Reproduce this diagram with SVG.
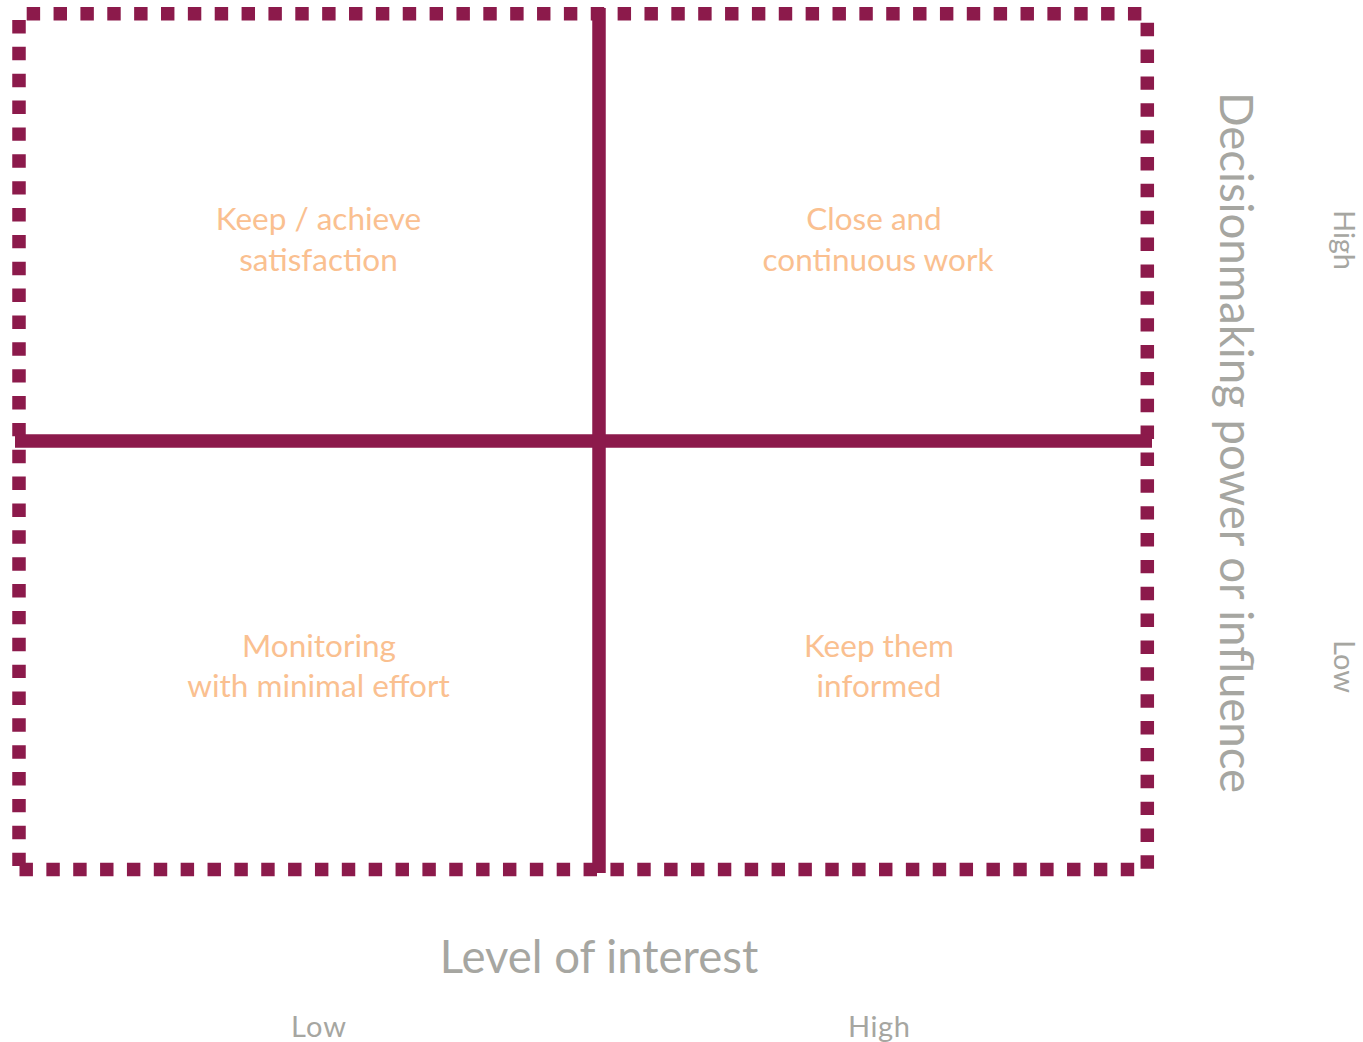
<svg xmlns="http://www.w3.org/2000/svg" width="1363" height="1042" viewBox="0 0 1363 1042">
<style>
.dot{stroke:#8C1A4B;stroke-width:13.5;stroke-dasharray:13.43 13.43;fill:none}
.axis{stroke:#8C1A4B;stroke-width:13.5;fill:none}
.q{font-family:Lato,"Open Sans",sans-serif;font-size:31.5px;fill:#FAC090;text-anchor:middle}
.ax{font-family:Lato,"Open Sans",sans-serif;fill:#A6A6A1;text-anchor:middle}
</style>
<rect width="1363" height="1042" fill="#FFFFFF"/>
<g id="frame">
<line class="dot" x1="26.7" y1="13.7" x2="1142" y2="13.7"/>
<line class="dot" x1="19" y1="20" x2="19" y2="866"/>
<line class="dot" x1="1147.3" y1="22.7" x2="1147.3" y2="869"/>
<line class="dot" x1="19.5" y1="869.5" x2="1134.5" y2="869.5"/>
</g>
<g id="connectors">
<line class="axis" x1="15" y1="441" x2="1152" y2="441"/>
<line class="axis" x1="599" y1="8" x2="599" y2="873"/>
</g>
<g id="q-keep-satisfied">
<text class="q" x="318.5" y="230">Keep / achieve</text>
<text class="q" x="318.5" y="271">satisfaction</text>
</g>
<g id="q-close-work">
<text class="q" x="874" y="230">Close and</text>
<text class="q" x="878" y="271">continuous work</text>
</g>
<g id="q-monitoring">
<text class="q" x="319" y="657">Monitoring</text>
<text class="q" x="318.5" y="697">with minimal effort</text>
</g>
<g id="q-keep-informed">
<text class="q" x="879" y="657">Keep them</text>
<text class="q" x="879" y="697">informed</text>
</g>
<g id="x-axis">
<text class="ax" x="599" y="973" font-size="45.5">Level of interest</text>
<text class="ax" x="318.5" y="1037" font-size="29" textLength="55">Low</text>
<text class="ax" x="879" y="1037" font-size="29" textLength="62">High</text>
</g>
<g id="y-axis">
<text class="ax" font-size="45.5" transform="translate(1220,442.5) rotate(90)">Decisionmaking power or influence</text>
<text class="ax" font-size="29" textLength="60" transform="translate(1334,240) rotate(90)">High</text>
<text class="ax" font-size="29" textLength="53" transform="translate(1334,666.5) rotate(90)">Low</text>
</g>
</svg>
